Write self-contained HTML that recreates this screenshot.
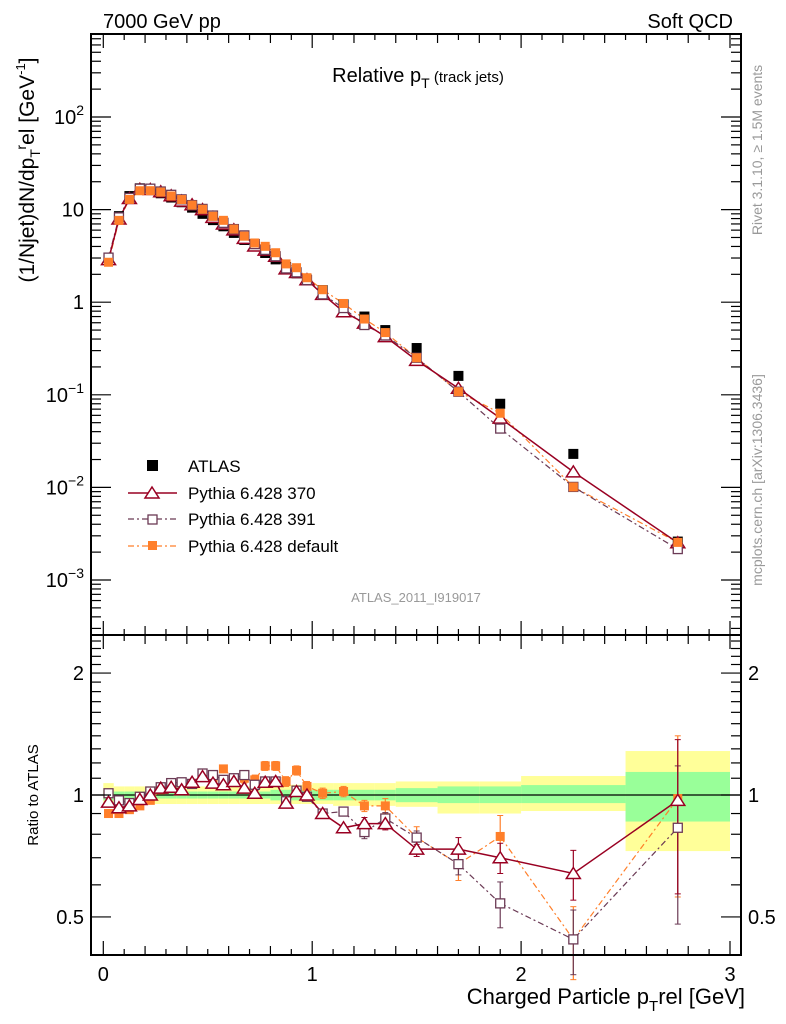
<!DOCTYPE html>
<html><head><meta charset="utf-8">
<style>
html,body{margin:0;padding:0;background:#fff;}
svg{display:block;font-family:"Liberation Sans",sans-serif;}
</style></head>
<body>
<svg id="c" width="786" height="1024" viewBox="0 0 786 1024" xmlns="http://www.w3.org/2000/svg">
<text x="103" y="28" font-size="20">7000 GeV pp</text>
<text x="733" y="28" font-size="20" text-anchor="end">Soft QCD</text>
<text x="418" y="82" font-size="20" text-anchor="middle">Relative p<tspan font-size="14" dy="6">T</tspan><tspan font-size="15" dy="-6"> (track jets)</tspan></text>
<text transform="translate(34,170) rotate(-90)" font-size="21" text-anchor="middle">(1/Njet)dN/dp<tspan font-size="14" dy="6">T</tspan><tspan dy="-14" font-size="14">r</tspan><tspan dy="8">el [GeV</tspan><tspan font-size="13" dy="-9">-1</tspan><tspan dy="9">]</tspan></text>
<text transform="translate(38,795) rotate(-90)" font-size="15" text-anchor="middle">Ratio to ATLAS</text>
<text transform="translate(762,150) rotate(-90)" font-size="14" fill="#999" text-anchor="middle">Rivet 3.1.10, ≥ 1.5M events</text>
<text transform="translate(762,480) rotate(-90)" font-size="14" fill="#999" text-anchor="middle">mcplots.cern.ch [arXiv:1306.3436]</text>
<text x="416" y="602" font-size="13" fill="#999" text-anchor="middle">ATLAS_2011_I919017</text>
<text x="745" y="1004" font-size="22" text-anchor="end">Charged Particle p<tspan font-size="15" dy="7">T</tspan><tspan dy="-7">rel [GeV]</tspan></text>
<g id="bands"></g><g id="marks"></g><g id="axes"></g>
<g>
<rect x="147" y="460" width="11" height="11" fill="#000"/>
<text x="188" y="472" font-size="17">ATLAS</text>
<line x1="128" y1="493" x2="177" y2="493" stroke="#990022" stroke-width="1.5"/>
<polygon points="152,487 159,498 145,498" fill="#fff" stroke="#990022" stroke-width="1.5"/>
<text x="188" y="499" font-size="17">Pythia 6.428 370</text>
<line x1="128" y1="519" x2="177" y2="519" stroke="#6b3a55" stroke-width="1.2" stroke-dasharray="6,3,2,3"/>
<rect x="148" y="515" width="9" height="9" fill="#fff" stroke="#6b3a55" stroke-width="1.3"/>
<text x="188" y="525" font-size="17">Pythia 6.428 391</text>
<line x1="128" y1="546" x2="177" y2="546" stroke="#ff7f2a" stroke-width="1.2" stroke-dasharray="6,3,2,3"/>
<rect x="148" y="541" width="9" height="9" fill="#ff7f2a"/>
<text x="188" y="552" font-size="17">Pythia 6.428 default</text>
</g>
</svg>
<script>
const binEdges=[0,0.05,0.1,0.15,0.2,0.25,0.3,0.35,0.4,0.45,0.5,0.55,0.6,0.65,0.7,0.75,0.8,0.85,0.9,0.95,1.0,1.1,1.2,1.3,1.4,1.6,1.8,2.0,2.5,3.0];
const atlas=[3.0,8.5,14,17,16.5,15,13.5,12,10.5,9,7.7,6.6,5.6,4.7,4.0,3.4,2.9,2.4,2.05,1.75,1.35,0.95,0.7,0.5,0.32,0.16,0.08,0.023,0.0026];
const ratio370=[0.96,0.93,0.94,0.975,1.0,1.04,1.045,1.03,1.075,1.11,1.07,1.06,1.08,1.04,1.01,1.075,1.08,0.955,1.02,1.0,0.90,0.83,0.85,0.85,0.735,0.735,0.70,0.64,0.97];
const ratio391=[1.01,0.97,0.955,0.99,1.02,1.045,1.07,1.075,1.065,1.13,1.12,1.09,1.10,1.12,1.06,1.08,1.08,0.965,1.025,0.99,0.90,0.91,0.81,0.875,0.785,0.675,0.54,0.44,0.83];
const ratioDef=[0.90,0.90,0.92,0.94,0.97,1.03,1.04,1.07,1.065,1.12,1.10,1.16,1.10,1.10,1.09,1.18,1.18,1.08,1.15,1.05,1.01,1.02,0.94,0.94,0.785,0.675,0.79,0.44,0.98];
const err370=[0.02,0.02,0.02,0.02,0.02,0.02,0.02,0.02,0.02,0.02,0.02,0.02,0.02,0.02,0.02,0.02,0.02,0.02,0.02,0.02,0.02,0.02,0.03,0.03,0.03,0.05,0.06,0.09,0.4];
const err391=[0.02,0.02,0.02,0.02,0.02,0.02,0.02,0.02,0.02,0.02,0.02,0.02,0.02,0.02,0.02,0.02,0.02,0.02,0.02,0.02,0.02,0.02,0.03,0.03,0.03,0.04,0.07,0.08,0.35];
const errDef=[0.02,0.02,0.02,0.02,0.02,0.02,0.02,0.02,0.02,0.02,0.02,0.02,0.02,0.03,0.03,0.03,0.03,0.03,0.03,0.03,0.03,0.03,0.03,0.04,0.05,0.06,0.1,0.09,0.42];
const yelLo=[0.93,0.95,0.95,0.95,0.95,0.95,0.95,0.95,0.95,0.95,0.95,0.95,0.95,0.95,0.95,0.95,0.95,0.95,0.95,0.95,0.95,0.94,0.94,0.94,0.935,0.90,0.90,0.913,0.727];
const yelHi=[1.07,1.05,1.05,1.05,1.05,1.05,1.05,1.05,1.05,1.05,1.05,1.05,1.05,1.05,1.05,1.05,1.06,1.06,1.06,1.06,1.07,1.07,1.07,1.07,1.08,1.08,1.08,1.114,1.284];
const grnLo=[0.97,0.98,0.98,0.98,0.98,0.98,0.98,0.98,0.98,0.98,0.98,0.98,0.98,0.98,0.98,0.98,0.97,0.97,0.97,0.97,0.97,0.97,0.97,0.97,0.96,0.955,0.955,0.955,0.86];
const grnHi=[1.03,1.02,1.02,1.02,1.02,1.02,1.02,1.02,1.02,1.02,1.02,1.02,1.02,1.02,1.02,1.02,1.03,1.03,1.03,1.03,1.03,1.03,1.03,1.03,1.04,1.05,1.05,1.058,1.14];

const NS='http://www.w3.org/2000/svg';
const X0=91,X1=741,T=34,MID=635,B=955;
const xs=v=>103.3+v*208.9;
const ym=v=>302.2-92.6*Math.log10(v);
const yr=v=>795-405*Math.log10(v);
function el(tag,attrs,parent){const e=document.createElementNS(NS,tag);for(const k in attrs)e.setAttribute(k,attrs[k]);parent.appendChild(e);return e;}
const bands=document.getElementById('bands'),marks=document.getElementById('marks'),axes=document.getElementById('axes');
const centers=[];for(let i=0;i<atlas.length;i++)centers.push((binEdges[i]+binEdges[i+1])/2);

for(let i=0;i<atlas.length;i++){
  const a=xs(binEdges[i]),b=xs(binEdges[i+1]);
  const r1=el('rect',{x:a,y:yr(yelHi[i]),width:b-a,height:yr(yelLo[i])-yr(yelHi[i]),fill:'#ffff99'},bands);
  
  
  const r2=el('rect',{x:a,y:yr(grnHi[i]),width:b-a,height:yr(grnLo[i])-yr(grnHi[i]),fill:'#99ff99'},bands);
  
  
}
const one=el('line',{x1:X0,x2:X1,y1:yr(1),y2:yr(1),stroke:'#000','stroke-width':1.3},bands);



const series=[
 {name:'default',r:ratioDef,e:errDef,col:'#ff7f2a',dash:'6,3,2,3',m:'fsq'},
 {name:'391',r:ratio391,e:err391,col:'#6b3a55',dash:'6,3,2,3',m:'osq'},
 {name:'370',r:ratio370,e:err370,col:'#990022',dash:'',m:'tri'}
];
function marker(s,cx,cy,g,nm){
  let e;
  if(s.m==='tri') e=el('polygon',{points:`${cx},${cy-6} ${cx+7},${cy+5} ${cx-7},${cy+5}`,fill:'#fff',stroke:s.col,'stroke-width':1.5},g);
  else if(s.m==='osq') e=el('rect',{x:cx-4.5,y:cy-4.5,width:9,height:9,fill:'#fff',stroke:s.col,'stroke-width':1.3},g);
  else e=el('rect',{x:cx-4.5,y:cy-4.5,width:9,height:9,fill:s.col},g);
  
  
}
series.forEach(s=>{
  const g=el('g',{},marks);
  
  
  const ptsM=centers.map((c,i)=>xs(c)+','+ym(atlas[i]*s.r[i])).join(' ');
  el('polyline',{points:ptsM,fill:'none',stroke:s.col,'stroke-width':s.dash?1.2:1.5,'stroke-dasharray':s.dash},g);
  const ptsR=centers.map((c,i)=>xs(c)+','+yr(s.r[i])).join(' ');
  el('polyline',{points:ptsR,fill:'none',stroke:s.col,'stroke-width':s.dash?1.2:1.5,'stroke-dasharray':s.dash},g);
  centers.forEach((c,i)=>{
    const x=xs(c);
    const lo=yr(s.r[i]-s.e[i]),hi=yr(s.r[i]+s.e[i]);
    el('line',{x1:x,x2:x,y1:hi,y2:lo,stroke:s.col,'stroke-width':1.2},g);
    if(s.e[i]>0.025){el('line',{x1:x-3,x2:x+3,y1:hi,y2:hi,stroke:s.col},g);el('line',{x1:x-3,x2:x+3,y1:lo,y2:lo,stroke:s.col},g);}
  });
});
const ga=el('g',{},marks);


centers.forEach((c,i)=>{
  const r=el('rect',{x:xs(c)-5,y:ym(atlas[i])-5,width:10,height:10,fill:'#000'},ga);
  
  
});
// ratio markers: default, 391, 370 ; main markers: 370, 391, default (orange on top)
series.forEach(s=>{
  const g=el('g',{},marks);
  
  
  centers.forEach((c,i)=>{marker(s,xs(c),yr(s.r[i]),g,'ratio-point-'+s.name);});
});
series.slice().reverse().forEach(s=>{
  const g=el('g',{},marks);
  
  
  centers.forEach((c,i)=>{marker(s,xs(c),ym(atlas[i]*s.r[i]),g,'point-'+s.name);});
});

const f1=el('rect',{x:X0,y:T,width:X1-X0,height:MID-T,fill:'none',stroke:'#000','stroke-width':2},axes);


const f2=el('rect',{x:X0,y:MID,width:X1-X0,height:B-MID,fill:'none',stroke:'#000','stroke-width':2},axes);


for(let k=0;k<=30;k++){
  const v=k/10,x=xs(v);
  const len=(k%10===0)?14:(k%2===0?9:6);
  el('line',{x1:x,x2:x,y1:T,y2:T+len,stroke:'#000','stroke-width':1.2},axes);
  el('line',{x1:x,x2:x,y1:MID-len,y2:MID+len,stroke:'#000','stroke-width':1.2},axes);
  el('line',{x1:x,x2:x,y1:B,y2:B-len,stroke:'#000','stroke-width':1.2},axes);
}
const xTickLabels=['0','1','2','3'];
xTickLabels.forEach((t,i)=>{
  const tx=el('text',{x:xs(i),y:981,'font-size':20,'text-anchor':'middle'},axes);
  tx.textContent=t;
  
  
});
for(let d=-4;d<=2;d++){
  for(let m=1;m<=9;m++){
    const v=m*Math.pow(10,d),y=ym(v);
    if(y<T||y>MID)continue;
    const len=m===1?20:10;
    el('line',{x1:X0,x2:X0+len,y1:y,y2:y,stroke:'#000','stroke-width':1.2},axes);
    el('line',{x1:X1,x2:X1-len,y1:y,y2:y,stroke:'#000','stroke-width':1.2},axes);
  }
}
const yTickExp=[-3,-2,-1,0,1,2];
yTickExp.forEach(d=>{
  const y=ym(Math.pow(10,d));
  const tx=el('text',{x:84,y:y+7,'font-size':20,'text-anchor':'end'},axes);
  
  
  if(d===0)tx.textContent='1';
  else if(d===1)tx.textContent='10';
  else{tx.textContent='10';const ts=el('tspan',{dy:-9,'font-size':14},tx);ts.textContent=d<0?'\u2212'+(-d):String(d);}
});
for(let k=4;k<=24;k++){
  const vv=k/10,y=yr(vv);
  if(y<MID||y>B)continue;
  const len=(k===5||k===10||k===20)?20:10;
  el('line',{x1:X0,x2:X0+len,y1:y,y2:y,stroke:'#000','stroke-width':1.2},axes);
  el('line',{x1:X1,x2:X1-len,y1:y,y2:y,stroke:'#000','stroke-width':1.2},axes);
}
const rTickLabels=['0.5','1','2'];
const rTickVals=[0.5,1,2];
rTickVals.forEach((v,i)=>{
  const t1=el('text',{x:84,y:yr(v)+7,'font-size':20,'text-anchor':'end'},axes);t1.textContent=rTickLabels[i];
  
  
  const t2=el('text',{x:748,y:yr(v)+7,'font-size':20},axes);t2.textContent=rTickLabels[i];
  
  
});
</script>
</body></html>
